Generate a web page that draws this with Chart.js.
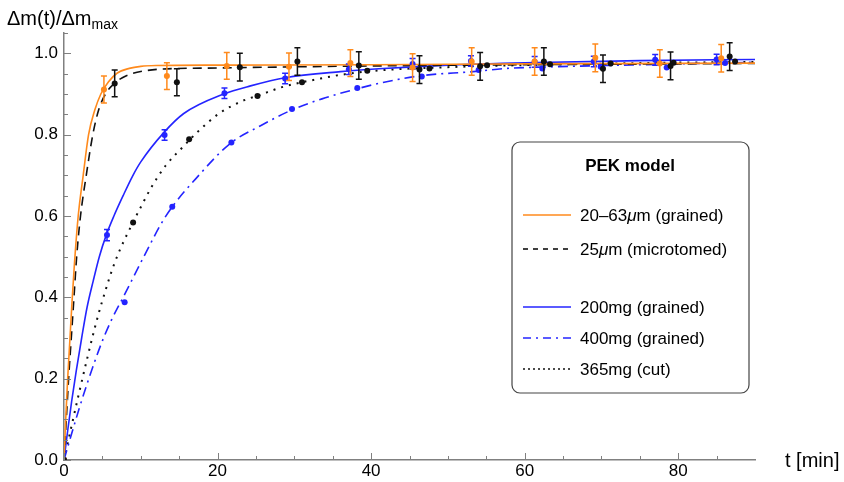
<!DOCTYPE html>
<html>
<head>
<meta charset="utf-8">
<script src="https://cdn.jsdelivr.net/npm/chart.js@4.4.1/dist/chart.umd.min.js"></script>
<style>
  body { margin: 0; background: #fff; }
  #wrap { width: 844px; height: 482px; }
</style>
</head>
<body>
<div id="wrap"><canvas id="chart" width="844" height="482"></canvas></div>
<script>
// measured points (t in min, normalised mass uptake) + error half widths
const grainT = [0, 5.2, 13.4, 21.2, 29.3, 37.3, 45.4, 53.1, 61.3, 69.2, 77.6, 85.6];
const grainY = [0, 0.911, 0.944, 0.969, 0.967, 0.976, 0.965, 0.980, 0.980, 0.989, 0.975, 0.988];
const grainErr = [0, 0.033, 0.033, 0.033, 0.034, 0.033, 0.034, 0.034, 0.034, 0.034, 0.034, 0.034];

const microT = [0, 6.6, 14.7, 22.9, 30.4, 38.4, 46.3, 54.2, 62.5, 70.2, 79.0, 86.7];
const microY = [0, 0.926, 0.929, 0.966, 0.980, 0.970, 0.960, 0.968, 0.980, 0.962, 0.969, 0.992];
const microErr = [0, 0.033, 0.033, 0.034, 0.034, 0.034, 0.034, 0.034, 0.034, 0.034, 0.034, 0.034];

const mg200T = [0, 5.6, 13.1, 20.9, 28.8, 37.1, 45.4, 53.0, 61.3, 69.0, 77.0, 85.0];
const mg200Y = [0, 0.553, 0.799, 0.902, 0.938, 0.961, 0.974, 0.981, 0.979, 0.980, 0.984, 0.985];
const mg200Err = [0, 0.014, 0.013, 0.013, 0.013, 0.013, 0.013, 0.013, 0.013, 0.013, 0.013, 0.013];

const mg400T = [0, 7.9, 14.1, 21.8, 29.7, 38.2, 46.6, 54.0, 62.3, 69.9, 78.5, 86.1];
const mg400Y = [0, 0.388, 0.623, 0.781, 0.863, 0.915, 0.943, 0.959, 0.963, 0.967, 0.965, 0.976];
const mg400Err = [0, 0.003, 0.003, 0.003, 0.003, 0.003, 0.003, 0.003, 0.003, 0.003, 0.003, 0.003];

const cutT = [0, 9.0, 16.3, 25.2, 31.0, 39.5, 47.6, 55.1, 63.3, 71.2, 79.4, 87.4];
const cutY = [0, 0.584, 0.789, 0.895, 0.929, 0.957, 0.963, 0.971, 0.973, 0.975, 0.977, 0.980];
const cutErr = [0, 0.003, 0.003, 0.003, 0.003, 0.003, 0.003, 0.003, 0.003, 0.003, 0.003, 0.003];

// PEK model curves
const grainFitT = [0, 0.2, 0.45, 0.75, 1.05, 1.35, 1.85, 2.5, 3.2, 4.0, 4.8, 5.8, 6.9, 8.5, 10, 12, 20, 40, 60, 90];
const grainFitY = [0, 0.09, 0.19, 0.29, 0.39, 0.48, 0.6, 0.7, 0.8, 0.86, 0.9, 0.93, 0.951, 0.963, 0.968, 0.970, 0.971, 0.972, 0.974, 0.976];

const microFitT = [0, 0.3, 0.6, 0.95, 1.3, 1.65, 2.15, 2.9, 3.75, 4.5, 5.4, 6.5, 7.6, 9, 10.5, 12.5, 20, 40, 60, 90];
const microFitY = [0, 0.1, 0.2, 0.3, 0.4, 0.5, 0.6, 0.7, 0.8, 0.86, 0.9, 0.925, 0.94, 0.951, 0.957, 0.961, 0.964, 0.969, 0.972, 0.975];

const mg200FitT = [0, 0.5, 1.0, 1.6, 2.3, 3.0, 3.8, 4.6, 5.5, 6.5, 7.7, 8.9, 10, 13, 15.6, 20.8, 24.3, 28.8, 36, 41, 50, 60, 75, 90];
const mg200FitY = [0, 0.075, 0.145, 0.22, 0.3, 0.375, 0.44, 0.5, 0.553, 0.6, 0.65, 0.697, 0.733, 0.805, 0.852, 0.9, 0.92, 0.94, 0.955, 0.962, 0.971, 0.977, 0.982, 0.985];

const mg400FitT = [0, 1, 2, 3, 4, 5, 6.2, 7.9, 10.4, 13.2, 17.8, 21.7, 25.6, 29.7, 33.6, 38.2, 41.7, 46.5, 53.3, 57.7, 62, 75, 90];
const mg400FitY = [0, 0.065, 0.128, 0.187, 0.242, 0.293, 0.345, 0.407, 0.5, 0.598, 0.705, 0.779, 0.822, 0.861, 0.888, 0.913, 0.929, 0.945, 0.955, 0.963, 0.966, 0.972, 0.978];

const cutFitT = [0, 1, 2, 3, 4, 5, 6.7, 9.0, 10.2, 11.3, 13.2, 15.6, 17.3, 20.2, 23, 25.4, 28.6, 33.4, 36, 41, 50, 60, 75, 90];
const cutFitY = [0, 0.085, 0.168, 0.248, 0.324, 0.392, 0.49, 0.585, 0.629, 0.668, 0.723, 0.772, 0.805, 0.852, 0.881, 0.897, 0.918, 0.938, 0.947, 0.958, 0.966, 0.971, 0.976, 0.979];

const xTicks = [0, 20, 40, 60, 80];
const yTicks = [0, 0.2, 0.4, 0.6, 0.8, 1.0];
const legendTitle = 'PEK model';
const legendLabels = ['20–63μm (grained)', '25μm (microtomed)', '200mg (grained)', '400mg (grained)', '365mg (cut)'];

const ORANGE = '#ff8a1c';
const BLUE = '#2424ff';
const BLACK = '#111111';
const FONT = "'Liberation Sans', Arial, sans-serif";

const toXY = (t, y) => t.map((v, i) => ({ x: v, y: y[i] }));

function fitSet(t, y, color, dash, width) {
    return {
        data: toXY(t, y), showLine: true, borderColor: color, borderWidth: width || 1.6,
        borderDash: dash, pointRadius: 0, cubicInterpolationMode: 'monotone', fill: false
    };
}

function pointSet(t, y, err, color) {
    return {
        data: toXY(t, y), showLine: false, errors: err, errColor: color,
        pointRadius: 3, pointBackgroundColor: color, pointBorderWidth: 0, borderColor: color
    };
}

// vertical error bars, drawn through the chart scales
const errorBars = {
    id: 'errorBars',
    afterDatasetDraw(chart, args) {
        const ds = chart.data.datasets[args.index];
        if (!ds.errors) return;
        const { ctx, scales: { x, y } } = chart;
        ctx.save();
        ctx.strokeStyle = ds.errColor;
        ctx.lineWidth = 1.5;
        ds.data.forEach((p, i) => {
            const e = ds.errors[i];
            if (!e) return;
            const px = x.getPixelForValue(p.x);
            const top = y.getPixelForValue(p.y + e);
            const bot = y.getPixelForValue(p.y - e);
            const cap = e > 0.01 ? 3 : 1.5;
            ctx.beginPath();
            ctx.moveTo(px, top); ctx.lineTo(px, bot);
            ctx.moveTo(px - cap, top); ctx.lineTo(px + cap, top);
            ctx.moveTo(px - cap, bot); ctx.lineTo(px + cap, bot);
            ctx.stroke();
        });
        ctx.restore();
    }
};

// inward tick marks, axis titles and the framed legend
const decorations = {
    id: 'decorations',
    afterDraw(chart) {
        const { ctx, chartArea: a, scales: { x, y } } = chart;
        ctx.save();
        ctx.strokeStyle = '#808080';
        ctx.lineWidth = 1;
        for (let v = 0; v <= 85.01; v += 5) {
            const px = Math.round(x.getPixelForValue(v)) + 0.5;
            const len = v % 20 === 0 ? 7 : 4;
            ctx.beginPath(); ctx.moveTo(px, a.bottom); ctx.lineTo(px, a.bottom - len); ctx.stroke();
        }
        for (let k = 0; k <= 21; k++) {
            const py = Math.round(y.getPixelForValue(k * 0.05)) + 0.5;
            const len = k % 4 === 0 ? 7 : 4;
            ctx.beginPath(); ctx.moveTo(a.left, py); ctx.lineTo(a.left + len, py); ctx.stroke();
        }

        ctx.fillStyle = '#000';
        ctx.textBaseline = 'alphabetic';
        ctx.textAlign = 'left';
        ctx.font = '20px ' + FONT;
        ctx.fillText('Δm(t)/Δm', 7, 25);
        const w = ctx.measureText('Δm(t)/Δm').width;
        ctx.font = '14px ' + FONT;
        ctx.fillText('max', 7 + w, 29);
        ctx.font = '20px ' + FONT;
        ctx.textBaseline = 'middle';
        ctx.fillText('t [min]', 785, 461);

        // legend box
        const bx = 512, by = 142, bw = 237, bh = 251, r = 8;
        ctx.beginPath();
        ctx.moveTo(bx + r, by);
        ctx.arcTo(bx + bw, by, bx + bw, by + bh, r);
        ctx.arcTo(bx + bw, by + bh, bx, by + bh, r);
        ctx.arcTo(bx, by + bh, bx, by, r);
        ctx.arcTo(bx, by, bx + bw, by, r);
        ctx.closePath();
        ctx.fillStyle = '#fff';
        ctx.fill();
        ctx.strokeStyle = '#444';
        ctx.lineWidth = 1.2;
        ctx.stroke();

        ctx.fillStyle = '#000';
        ctx.textAlign = 'center';
        ctx.font = 'bold 17px ' + FONT;
        ctx.fillText(legendTitle, 630, 166);

        const rowsY = [215, 249, 307, 338, 369];
        const styles = [
            [ORANGE, []], [BLACK, [5, 5]], [BLUE, []], [BLUE, [8, 5, 2, 5]], [BLACK, [2, 3]]
        ];
        ctx.textAlign = 'left';
        legendLabels.forEach((lab, i) => {
            const ly = rowsY[i];
            ctx.strokeStyle = styles[i][0];
            ctx.setLineDash(styles[i][1]);
            ctx.lineWidth = 1.6;
            ctx.beginPath(); ctx.moveTo(523, ly); ctx.lineTo(571, ly); ctx.stroke();
            ctx.setLineDash([]);
            let tx = 580;
            lab.split(/(μ)/).forEach(part => {
                ctx.font = (part === 'μ' ? 'italic ' : '') + '17px ' + FONT;
                ctx.fillText(part, tx, ly + 1);
                tx += ctx.measureText(part).width;
            });
        });
        ctx.restore();
    }
};

const datasets = [
    pointSet(microT, microY, microErr, BLACK),
    pointSet(grainT, grainY, grainErr, ORANGE),
    pointSet(mg200T, mg200Y, mg200Err, BLUE),
    pointSet(mg400T, mg400Y, mg400Err, BLUE),
    pointSet(cutT, cutY, cutErr, BLACK),
    fitSet(grainFitT, grainFitY, ORANGE, []),
    fitSet(microFitT, microFitY, BLACK, [9, 6]),
    fitSet(mg200FitT, mg200FitY, BLUE, []),
    fitSet(mg400FitT, mg400FitY, BLUE, [10, 5, 2, 5]),
    fitSet(cutFitT, cutFitY, BLACK, [2, 6], 2)
];

new Chart(document.getElementById('chart'), {
    type: 'scatter',
    data: { datasets },
    options: {
        responsive: false,
        animation: false,
        events: [],
        layout: { padding: { top: 33, right: 89, left: 0, bottom: 0 } },
        plugins: { legend: { display: false }, tooltip: { enabled: false } },
        scales: {
            x: {
                type: 'linear', min: 0, max: 90,
                afterBuildTicks: s => { s.ticks = xTicks.map(v => ({ value: v })); },
                afterFit: s => { s.height = 22; },
                ticks: { color: '#000', font: { family: FONT, size: 17 }, padding: 1, maxRotation: 0 },
                grid: { display: false, drawTicks: false },
                border: { display: true, color: '#808080', width: 1.5 }
            },
            y: {
                type: 'linear', min: 0, max: 1.05,
                afterBuildTicks: s => { s.ticks = yTicks.map(v => ({ value: v })); },
                afterFit: s => { s.width = 64; },
                ticks: { color: '#000', font: { family: FONT, size: 17 }, padding: 6, callback: v => v.toFixed(1) },
                grid: { display: false, drawTicks: false },
                border: { display: true, color: '#808080', width: 1.5 }
            }
        }
    },
    plugins: [errorBars, decorations]
});
</script>
</body>
</html>
